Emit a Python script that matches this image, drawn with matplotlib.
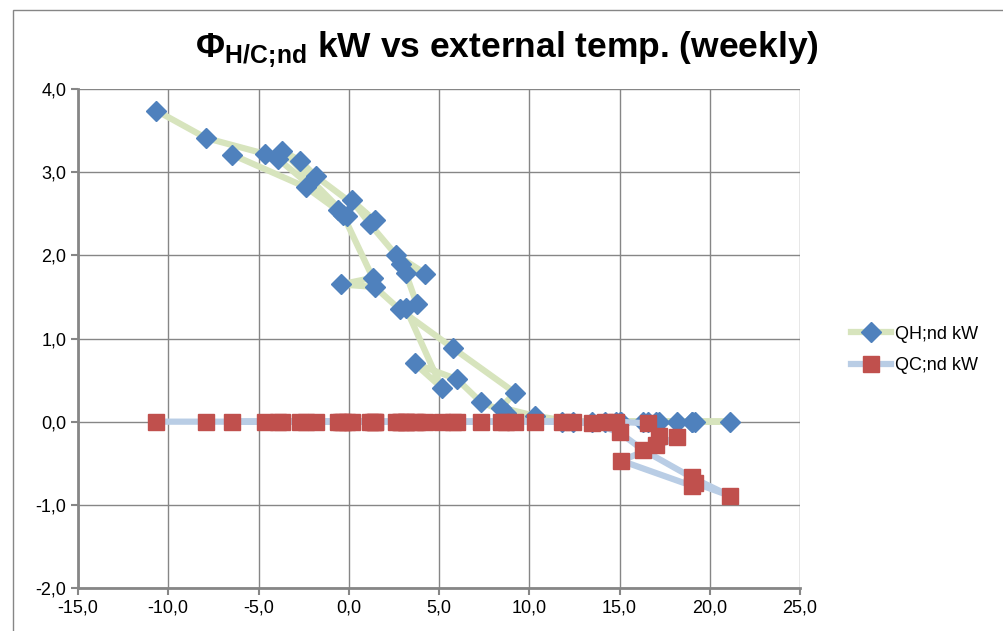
import matplotlib.pyplot as plt
from matplotlib.ticker import MultipleLocator, FuncFormatter
from matplotlib.patches import Rectangle

plt.rcParams['font.family'] = ['Liberation Sans', 'DejaVu Sans']
plt.rcParams['mathtext.fontset'] = 'custom'
plt.rcParams['mathtext.rm'] = 'Liberation Sans'
plt.rcParams['mathtext.bf'] = 'Liberation Sans:bold'

# weekly values, in week order
t_ext = [-10.66, -7.9, -4.64, -3.92, -0.1, -3.7, -2.7, -1.82, 1.44, 0.17,
         1.16, 2.6, 4.25, 2.87, 3.15, 3.76, 3.15, 5.14, 3.65, 6.0,
         7.3, 8.7, 11.8, 13.5, 15.0, 16.3, 19.0, 21.1, 19.2, 19.0,
         15.1, 18.2, 17.0, 17.2, 16.6, 14.8, 14.2, 12.4, 10.3, 8.45,
         9.2, 5.8, 2.82, 1.44, -0.44, 1.33, -0.3, -0.6, -2.38, -6.46]
qh = [3.74, 3.41, 3.22, 3.16, 2.47, 3.26, 3.14, 2.95, 2.42, 2.66,
      2.38, 2.01, 1.78, 1.89, 1.79, 1.42, 1.37, 0.41, 0.70, 0.51,
      0.24, 0.11, 0.0, 0.0, 0.0, 0.0, 0.0, 0.0, 0.0, 0.0,
      0.0, 0.0, 0.0, 0.0, 0.0, 0.0, 0.0, 0.0, 0.07, 0.17,
      0.35, 0.88, 1.35, 1.62, 1.65, 1.73, 2.48, 2.54, 2.82, 3.21]
qc = [0.0, 0.0, 0.0, 0.0, 0.0, 0.0, 0.0, 0.0, 0.0, 0.0,
      0.0, 0.0, 0.0, 0.0, 0.0, 0.0, 0.0, 0.0, 0.0, 0.0,
      0.0, 0.0, 0.0, -0.02, -0.13, -0.34, -0.67, -0.89, -0.74, -0.77,
      -0.47, -0.19, -0.28, -0.17, -0.02, 0.0, 0.0, 0.0, 0.0, 0.0,
      0.0, 0.0, 0.0, 0.0, 0.0, 0.0, 0.0, 0.0, 0.0, 0.0]

fig = plt.figure(figsize=(10.04, 6.31), dpi=100)
ax = fig.add_axes([78 / 1004, 43 / 631, 722 / 1004, 499 / 631])

# chart area frame
fig.patches.append(Rectangle((13 / 1004, -0.05), 1.2, (631 - 10) / 631 + 0.05,
                             transform=fig.transFigure, fill=False,
                             edgecolor='#868686', linewidth=1.0))

ax.plot(t_ext, qh, color='#D7E4BD', linewidth=4.5, zorder=2)
ax.plot(t_ext, qh, linestyle='none', marker='D', markersize=10,
        color='#4F81BD', zorder=3)
ax.plot(t_ext, qc, color='#B9CDE5', linewidth=4.5, zorder=4)
ax.plot(t_ext, qc, linestyle='none', marker='s', markersize=11,
        color='#C0504D', zorder=5)

ax.set_xlim(-15, 25)
ax.set_ylim(-2, 4)
ax.xaxis.set_major_locator(MultipleLocator(5))
ax.yaxis.set_major_locator(MultipleLocator(1))
fmt = FuncFormatter(lambda v, p: f'{v:.1f}'.replace('.', ','))
ax.xaxis.set_major_formatter(fmt)
ax.yaxis.set_major_formatter(fmt)
ax.grid(True, color='#868686', linewidth=1.0)
ax.set_axisbelow(True)
for s in ['top', 'right']:
    ax.spines[s].set_visible(False)
for s in ['left', 'bottom']:
    ax.spines[s].set_color('#868686')
    ax.spines[s].set_linewidth(2.0)
ax.tick_params(axis='both', colors='#868686', labelcolor='black',
               labelsize=13, length=5, width=1.5)

fig.text(0.505, 0.922, r'Φ$_{\mathbf{H/C;\!nd}}$ kW vs external temp. (weekly)',
         ha='center', va='center', fontsize=25.5, fontweight='bold')

h1, = ax.plot([], [], color='#D7E4BD', linewidth=4.5, marker='D',
              markersize=10, markerfacecolor='#4F81BD',
              markeredgecolor='#4F81BD')
h2, = ax.plot([], [], color='#B9CDE5', linewidth=4.5, marker='s',
              markersize=11, markerfacecolor='#C0504D',
              markeredgecolor='#C0504D')
fig.legend([h1, h2], ['QH;nd kW', 'QC;nd kW'], loc='center left',
           bbox_to_anchor=(835 / 1004, 1 - 350 / 631), frameon=False,
           fontsize=13, handlelength=2.2, handletextpad=0.2,
           labelspacing=0.8, numpoints=1)

fig.savefig('out.png', dpi=100)
